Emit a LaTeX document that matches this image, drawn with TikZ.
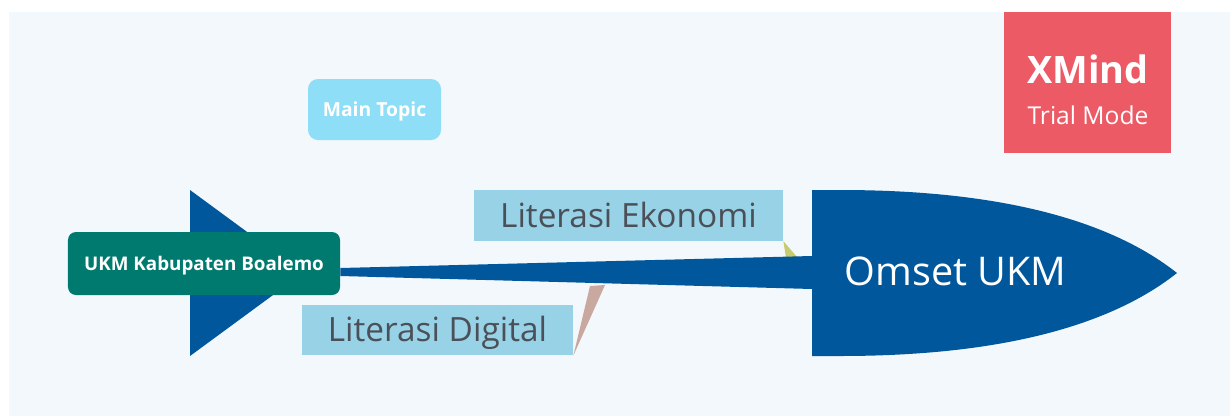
\documentclass[tikz,border=0pt]{standalone}
\usepackage{fontspec}
\setmainfont{Open Sans}
\usetikzlibrary{positioning}

\definecolor{paper}{HTML}{F3F8FD}
\definecolor{navy}{HTML}{00579B}
\definecolor{teal}{HTML}{007A6E}
\definecolor{litblue}{HTML}{98D2E7}
\definecolor{skyblue}{HTML}{8EDEF8}
\definecolor{trialred}{HTML}{EC5A65}
\definecolor{textgray}{HTML}{4B5058}
\definecolor{olive}{HTML}{C6CC6C}
\definecolor{rose}{HTML}{C9A99F}

\begin{document}
\begin{tikzpicture}[x=0.2mm, y=-0.2mm,
    tail/.style = {fill=teal, text=white, rounded corners=1.6mm, inner sep=0pt,
        font=\fontsize{10.7}{13}\bfseries, text height=7.8pt, text depth=0pt},
    topic/.style = {fill=litblue, text=textgray, inner sep=0pt, minimum height=10.1mm,
        font=\fontsize{19}{22}\selectfont, text height=13.6pt, text depth=0pt},
    maintopic/.style = {fill=skyblue, text=white, rounded corners=2mm, inner sep=0pt,
        font=\fontsize{11}{13}\bfseries, text height=7.9pt, text depth=0pt},
    trial/.style = {fill=trialred, inner sep=0pt}]
    \useasboundingbox (0,0) rectangle (1230,416);
    \fill[white] (0,0) rectangle (1230,416);
    \fill[paper] (9,12) rectangle (1230,416);

    % fish tail and start topic
    \fill[navy] (190,190) -- (190,356) -- (303,273) -- cycle;
    \node[tail, minimum width=54.4mm, minimum height=12.6mm] (ukm) at (204,263.5) {UKM Kabupaten Boalemo};

    % bones
    \node[topic, minimum width=61.8mm] (eko) at (628.5,215.5) {Literasi Ekonomi};
    \node[topic, minimum width=54.2mm] (dig) at (437.5,330) {Literasi Digital};
    \fill[olive] (eko.south east) -- (786,258) -- (797,257) -- cycle;
    \fill[rose] (dig.south east) -- (590,286) -- (605,285) -- cycle;

    % spine and head
    \coordinate (neck) at (812,273);
    \fill[navy] ([yshift=-0.9mm]ukm.east) -- ([yshift=3.4mm]neck) -- ([yshift=-3.2mm]neck) -- ([yshift=-2.5mm]ukm.east) -- cycle;
    \fill[navy] (812,190) -- (840,190) .. controls (1000,190) and (1110,220) .. (1177,273)
        .. controls (1110,326) and (1000,356) .. (840,356) -- (812,356) -- cycle;
    \node[text=white, inner sep=0pt, font=\fontsize{22.5}{26}\selectfont, text height=16pt, text depth=0pt] (omset) at (955.5,271.5) {Omset UKM};

    \node[maintopic, minimum width=26.6mm, minimum height=12.2mm] (main) at (374.5,109.5) {Main Topic};

    % trial mark
    \node[trial, minimum width=33.4mm, minimum height=28.2mm] (xmind) at (1087.5,82.5) {};
    \node[anchor=base, text=white, inner sep=0pt, font=\fontsize{21.5}{24}\bfseries] (xm) at (1088,83) {XMind};
    \node[anchor=base, text=white, inner sep=0pt, font=\fontsize{14}{16}\selectfont] (tm) at (1088,124) {Trial Mode};
\end{tikzpicture}
\end{document}
